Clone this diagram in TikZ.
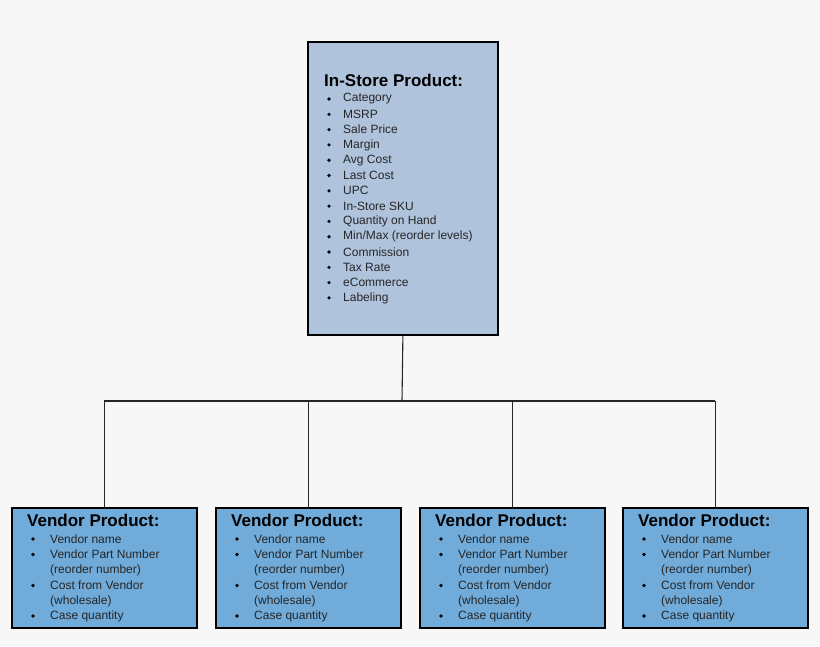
\documentclass[tikz,border=0pt]{standalone}
\usepackage{fontspec}
\setmainfont{Liberation Sans}
\begin{document}
\begin{tikzpicture}[x=1pt,y=-1pt,
  box/.style={draw=black,line width=1.8pt,inner sep=0pt,anchor=north west},
  ttl/.style={anchor=west,inner sep=0pt,font=\fontsize{17}{17}\selectfont\bfseries},
  itm/.style={anchor=west,inner sep=0pt,font=\fontsize{12}{12}\selectfont,text=black!85},
  blt/.style={circle,fill=black,inner sep=0pt,minimum size=3.6pt},
  wire/.style={line width=1.1pt,black!85}]
\fill[black!3] (0,0) rectangle (820,646);
\definecolor{topc}{HTML}{B0C3DD}
\definecolor{botc}{HTML}{70ABDA}
\node[box,fill=topc,minimum width=190pt,minimum height=293pt] (top) at (307,41) {};
\node[ttl] (tt) at (324,80) {In-Store Product:};
\foreach \t [count=\i from 0] in {Category,MSRP,Sale Price,Margin,Avg Cost,Last Cost,UPC,In-Store SKU,Quantity on Hand,Min/Max (reorder levels),Commission,Tax Rate,eCommerce,Labeling}{
  \node[blt] (tb\i) at (329,{99+15.3*\i}) {};
  \node[itm] (ti\i) at (343,{99+15.3*\i}) {\t};
}
\coordinate (j) at (402,401);
\draw[wire] (top.south) -- (j);
\foreach \x [count=\k] in {11,215,419,622}{
  \node[box,fill=botc,minimum width=185pt,minimum height=120pt] (b\k) at (\x,507) {};
  \node[ttl] (bt\k) at (\x+16,520) {Vendor Product:};
  \foreach \t/\y/\b [count=\m] in {Vendor name/539/1,Vendor Part Number/554.5/1,(reorder number)/570/0,Cost from Vendor/585.5/1,(wholesale)/601/0,Case quantity/616/1}{
    \ifnum\b=1 \node[blt] (bb\k\m) at (\x+22,\y) {};\fi
    \node[itm] (bi\k\m) at (\x+39,\y) {\t};
  }
  \draw[wire] (j -| b\k.north) -- (b\k.north);
}
\draw[wire] (j -| b1.north) -- (j -| b4.north);
\end{tikzpicture}
\end{document}
